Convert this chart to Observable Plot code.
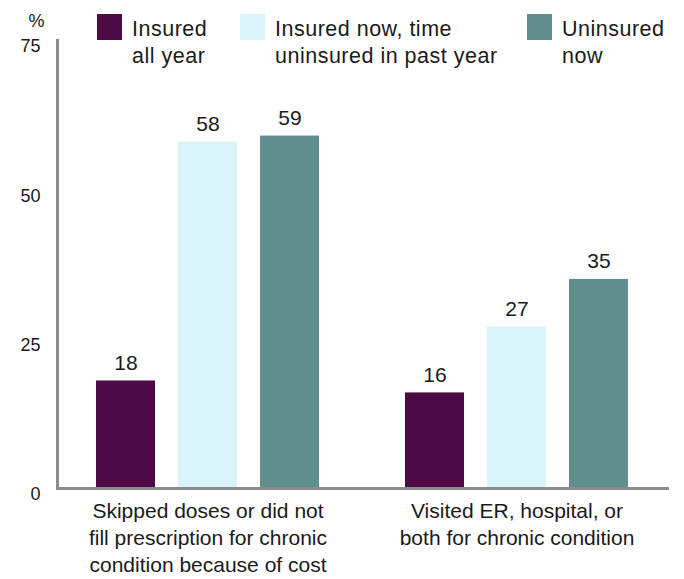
<!DOCTYPE html>
<html>
<head>
<meta charset="utf-8">
<script src="https://cdn.jsdelivr.net/npm/d3@7"></script>
<script src="https://cdn.jsdelivr.net/npm/@observablehq/plot@0.6"></script>
<style>
  html, body { margin: 0; padding: 0; background: #fff; }
  #wrap { position: relative; width: 684px; height: 579px; font-family: "Liberation Sans", Arial, sans-serif; color: #1a1a1a; }
  #legend { position: absolute; left: 0; top: 0; width: 684px; height: 70px; }
  .item { position: absolute; top: 14px; display: flex; align-items: flex-start; }
  .sw { width: 25px; height: 26px; margin-right: 10px; }
  .lab { font-size: 21.5px; letter-spacing: 0.5px; line-height: 27px; margin-top: 2px; }
</style>
</head>
<body>
<div id="wrap"><div id="legend"></div></div>
<script>
const groups = [
  "Skipped doses or did not\nfill prescription for chronic\ncondition because of cost",
  "Visited ER, hospital, or\nboth for chronic condition"
];
const series = ["Insured all year", "Insured now, time uninsured in past year", "Uninsured now"];
const legendLabels = ["Insured<br>all year", "Insured now, time<br>uninsured in past year", "Uninsured<br>now"];
const insuredAllYear = [18, 16];
const insuredNowGap = [58, 27];
const uninsuredNow = [59, 35];
const yTicks = [0, 25, 50, 75];
const colors = ["#4c0a46", "#d9f4f9", "#5f8e8c"];

const seriesValues = [insuredAllYear, insuredNowGap, uninsuredNow];
const rows = [];
groups.forEach((g, gi) => series.forEach((s, si) => rows.push({group: g, series: s, value: seriesValues[si][gi]})));

const chart = Plot.plot({
  width: 684,
  height: 579,
  marginTop: 40,
  marginBottom: 91,
  marginLeft: 57,
  marginRight: 16.5,
  style: {fontFamily: "'Liberation Sans', Arial, sans-serif", color: "#1a1a1a", background: "transparent"},
  fx: {domain: groups, paddingInner: 0.0275, paddingOuter: 0, align: 0, label: null},
  x: {domain: series, paddingInner: 0.285, paddingOuter: 0.4666, axis: null},
  y: {domain: [0, 75], label: null},
  color: {domain: series, range: colors},
  marks: [
    Plot.barY(rows, {fx: "group", x: "series", y: "value", fill: "series"}),
    Plot.text(rows, {fx: "group", x: "series", y: "value", text: d => String(d.value), lineAnchor: "bottom", dy: -11, fontSize: 21, fill: "#1a1a1a"}),
    Plot.axisY({ticks: yTicks, tickSize: 0, tickPadding: 17, fontSize: 18, dy: 6, label: null}),
    Plot.axisFx({anchor: "bottom", tickSize: 0, tickPadding: 10, fontSize: 21, lineHeight: 1.3, label: null}),
    Plot.text(["%"], {frameAnchor: "top-left", facet: "super", dx: -29, dy: -26, fontSize: 18, fill: "#1a1a1a"}),
    Plot.frame({anchor: "left", facet: "super", stroke: "#8c8c8c", strokeWidth: 3}),
    Plot.frame({anchor: "bottom", facet: "super", stroke: "#8c8c8c", strokeWidth: 3})
  ]
});
document.getElementById("wrap").prepend(chart);

const legend = document.getElementById("legend");
const lefts = [97, 240, 527];
series.forEach((s, i) => {
  const it = document.createElement("div");
  it.className = "item";
  it.style.left = lefts[i] + "px";
  it.innerHTML = `<div class="sw" style="background:${colors[i]}"></div><div class="lab">${legendLabels[i]}</div>`;
  legend.appendChild(it);
});
</script>
</body>
</html>
